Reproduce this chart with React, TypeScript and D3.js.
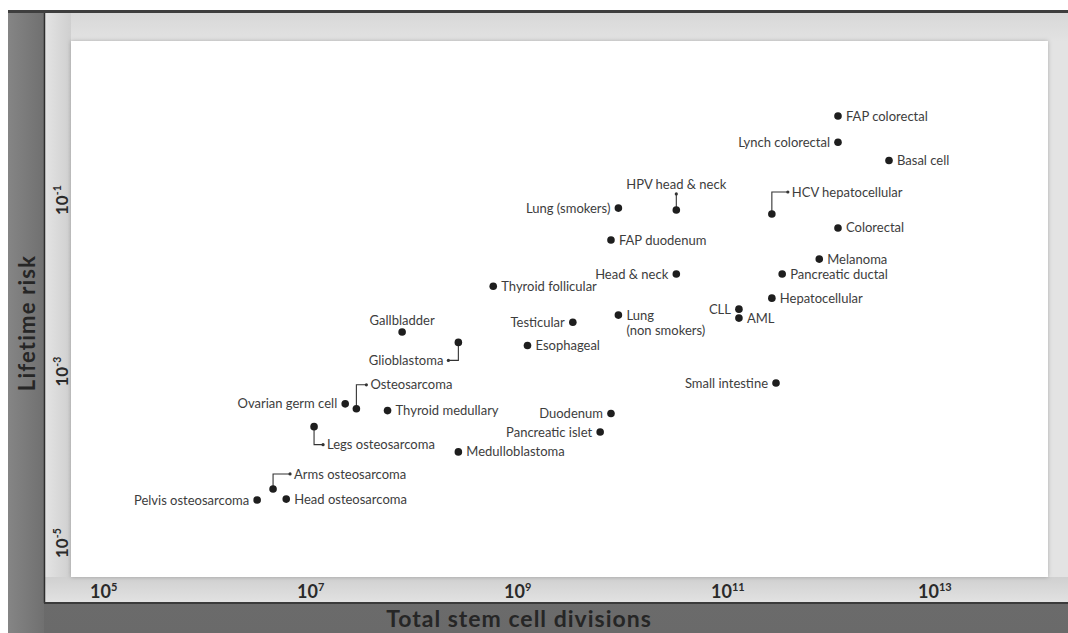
import React from 'react';
import * as d3 from 'd3';

// cancer types, total stem cell divisions and lifetime risk
const cancers = [
  'FAP colorectal', 'Lynch colorectal', 'Basal cell', 'HCV hepatocellular', 'HPV head & neck',
  'Lung (smokers)', 'Colorectal', 'FAP duodenum', 'Melanoma', 'Pancreatic ductal',
  'Head & neck', 'Thyroid follicular', 'Hepatocellular', 'CLL', 'AML',
  'Lung (non smokers)', 'Testicular', 'Gallbladder', 'Glioblastoma', 'Esophageal',
  'Small intestine', 'Ovarian germ cell', 'Osteosarcoma', 'Thyroid medullary', 'Duodenum',
  'Legs osteosarcoma', 'Pancreatic islet', 'Medulloblastoma', 'Arms osteosarcoma',
  'Pelvis osteosarcoma', 'Head osteosarcoma',
];
const divisions = [
  1.35e12, 1.35e12, 4.2e12, 3.1e11, 3.7e10,
  1.02e10, 1.35e12, 8.65e9, 8.9e11, 3.9e11,
  3.7e10, 6.3e8, 3.1e11, 1.49e11, 1.49e11,
  1.02e10, 3.7e9, 8.3e7, 2.9e8, 1.35e9,
  3.4e11, 2.34e7, 3.0e7, 6.0e7, 8.65e9,
  1.17e7, 6.8e9, 2.9e8, 4.7e6,
  3.3e6, 6.3e6,
];
const risk = [
  1.09, 0.54, 0.33, 0.0785, 0.0875,
  0.092, 0.054, 0.039, 0.0234, 0.0157,
  0.0157, 0.0113, 0.0082, 0.0061, 0.0048,
  0.0052, 0.0043, 0.0033, 0.0025, 0.0023,
  0.00084, 0.00048, 0.00042, 0.0004, 0.00037,
  0.00026, 0.000225, 0.000132, 0.0000488,
  0.0000363, 0.0000372,
];
const xTicks = [1e5, 1e7, 1e9, 1e11, 1e13];
const yTicks = [1e-5, 1e-3, 1e-1];

// label placement: r = right, l = left, t = above, elbow = leader line (dy vertical, dx horizontal)
type Place = { side: 'r' | 'l' | 't' | 'stem' | 'elbow'; dy?: number; dx?: number; lines?: string[] };
const place: Record<string, Place> = {
  'FAP colorectal': { side: 'r' },
  'Lynch colorectal': { side: 'l' },
  'Basal cell': { side: 'r' },
  'HCV hepatocellular': { side: 'elbow', dy: -22, dx: 16 },
  'HPV head & neck': { side: 'stem', dy: -16 },
  'Lung (smokers)': { side: 'l' },
  'Colorectal': { side: 'r' },
  'FAP duodenum': { side: 'r' },
  'Melanoma': { side: 'r' },
  'Pancreatic ductal': { side: 'r' },
  'Head & neck': { side: 'l' },
  'Thyroid follicular': { side: 'r' },
  'Hepatocellular': { side: 'r' },
  'CLL': { side: 'l' },
  'AML': { side: 'r' },
  'Lung (non smokers)': { side: 'r', lines: ['Lung', '(non smokers)'] },
  'Testicular': { side: 'l' },
  'Gallbladder': { side: 't' },
  'Glioblastoma': { side: 'elbow', dy: 18, dx: -10 },
  'Esophageal': { side: 'r' },
  'Small intestine': { side: 'l' },
  'Ovarian germ cell': { side: 'l' },
  'Osteosarcoma': { side: 'elbow', dy: -24, dx: 10 },
  'Thyroid medullary': { side: 'r' },
  'Duodenum': { side: 'l' },
  'Legs osteosarcoma': { side: 'elbow', dy: 18, dx: 9 },
  'Pancreatic islet': { side: 'l' },
  'Medulloblastoma': { side: 'r' },
  'Arms osteosarcoma': { side: 'elbow', dy: -15, dx: 17 },
  'Pelvis osteosarcoma': { side: 'l' },
  'Head osteosarcoma': { side: 'r' },
};

const W = 1068;
const H = 633;
const font = 'Lato, "Open Sans", sans-serif';
const ink = '#1e1e1e';
const textCol = '#3d3d3d';

const App = () => {
  const x = d3.scaleLog().domain([1e5, 1e13]).range([100, 928]);
  const y = d3.scaleLog().domain([1e-5, 1e-1]).range([548, 205]);

  const points = cancers.map((name, i) => ({
    name,
    cx: x(divisions[i]),
    cy: y(risk[i]),
    p: place[name],
  }));

  const exp = (v: number) => Math.round(Math.log10(v));

  const renderLabel = (d: { name: string; cx: number; cy: number; p: Place }) => {
    const { cx, cy, p } = d;
    const common = { fontFamily: font, fontSize: 13, fill: textCol };
    if (p.side === 'r' || p.side === 'l') {
      const tx = p.side === 'r' ? cx + 8 : cx - 8;
      const lines = p.lines || [d.name];
      // one text per line so wrapped labels keep their own box
      return (
        <g>
          {lines.map((l, k) => (
            <text
              key={k}
              x={tx}
              y={cy + k * 15.6}
              dy="0.35em"
              textAnchor={p.side === 'r' ? 'start' : 'end'}
              {...common}
            >
              {l}
            </text>
          ))}
        </g>
      );
    }
    if (p.side === 't') {
      return <text x={cx} y={cy - 12} dy="0.35em" textAnchor="middle" {...common}>{d.name}</text>;
    }
    if (p.side === 'stem') {
      const ey = cy + (p.dy || 0);
      return (
        <g>
          <line x1={cx} y1={cy} x2={cx} y2={ey} stroke="#333" strokeWidth={1.1} />
          <circle cx={cx} cy={ey} r={1.6} fill="#333" />
          <text x={cx} y={ey - 10} dy="0.35em" textAnchor="middle" {...common}>{d.name}</text>
        </g>
      );
    }
    // elbow leader line
    const ey = cy + (p.dy || 0);
    const ex = cx + (p.dx || 0);
    const right = (p.dx || 0) > 0;
    return (
      <g>
        <path d={`M${cx},${cy}V${ey}H${ex}`} fill="none" stroke="#333" strokeWidth={1.1} />
        <circle cx={ex} cy={ey} r={1.6} fill="#333" />
        <text x={right ? ex + 4 : ex - 5} y={ey} dy="0.35em" textAnchor={right ? 'start' : 'end'} {...common}>
          {d.name}
        </text>
      </g>
    );
  };

  return (
    <svg width={W} height={H} style={{ position: 'absolute', left: 0, top: 0, background: '#fff' }}>
      <defs>
        <linearGradient id="darkV" x1="0" y1="0" x2="0" y2="1">
          <stop offset="0" stopColor="#7c7c7c" />
          <stop offset="1" stopColor="#6a6a6a" />
        </linearGradient>
        <linearGradient id="darkH" x1="0" y1="0" x2="1" y2="0">
          <stop offset="0" stopColor="#858585" />
          <stop offset="1" stopColor="#707070" />
        </linearGradient>
        <linearGradient id="lightH" x1="0" y1="0" x2="1" y2="0">
          <stop offset="0" stopColor="#e4e4e4" />
          <stop offset="1" stopColor="#cfcfcf" />
        </linearGradient>
        <linearGradient id="lightV" x1="0" y1="0" x2="0" y2="1">
          <stop offset="0" stopColor="#d0d0d0" />
          <stop offset="1" stopColor="#e2e2e2" />
        </linearGradient>
        <filter id="shadow" x="-5%" y="-5%" width="110%" height="110%">
          <feDropShadow dx="0" dy="0" stdDeviation="2" floodColor="#000" floodOpacity="0.25" />
        </filter>
      </defs>

      {/* outer dark frame */}
      <rect x={8} y={10} width={W - 8} height={H - 10} fill="url(#darkV)" />
      <rect x={8} y={10} width={36} height={H - 10} fill="url(#darkH)" />
      <rect x={8} y={10} width={W - 8} height={3} fill="#3e3e3e" />

      {/* light panel */}
      <rect x={44} y={13} width={W - 44} height={590} fill="#e3e3e3" />
      <rect x={44} y={13} width={W - 44} height={28} fill="url(#lightV)" opacity={0.6} />
      <rect x={44} y={13} width={27} height={590} fill="url(#lightH)" />
      <rect x={44} y={577} width={W - 44} height={26} fill="url(#lightV)" />
      <line x1={44.5} y1={13} x2={44.5} y2={603} stroke="#2e2e2e" strokeWidth={1.5} />
      <line x1={44} y1={603} x2={W} y2={603} stroke="#3a3a3a" strokeWidth={2} />

      {/* plot area */}
      <rect x={71} y={41} width={977} height={536} fill="#fff" filter="url(#shadow)" />

      {/* x tick labels */}
      {xTicks.map((t) => (
        <text key={t} x={x(t) - 10} y={598} fontFamily={font} fontWeight={700} fontSize={18} fill="#2a2a2a">
          10
          <tspan fontSize={11} dy={-7}>{exp(t)}</tspan>
        </text>
      ))}

      {/* y tick labels */}
      {yTicks.map((t) => (
        <text
          key={t}
          transform={`translate(68,${y(t) + 10}) rotate(-90)`}
          fontFamily={font}
          fontWeight={700}
          fontSize={17}
          fill="#2a2a2a"
        >
          10
          <tspan fontSize={10.5} dy={-7}>{exp(t)}</tspan>
        </text>
      ))}

      {/* axis titles */}
      <text
        transform="translate(35,323) rotate(-90)"
        textAnchor="middle"
        fontFamily={font}
        fontWeight={700}
        fontSize={22}
        letterSpacing={1.2}
        fill="#262626"
      >
        Lifetime risk
      </text>
      <text
        x={519}
        y={627}
        textAnchor="middle"
        fontFamily={font}
        fontWeight={700}
        fontSize={23}
        letterSpacing={1}
        fill="#262626"
      >
        Total stem cell divisions
      </text>

      {/* labels and dots */}
      {points.map((d) => (
        <g key={d.name}>{renderLabel(d)}</g>
      ))}
      {points.map((d) => (
        <circle key={d.name} cx={d.cx} cy={d.cy} r={3.8} fill={ink} />
      ))}
    </svg>
  );
};

export default App;
